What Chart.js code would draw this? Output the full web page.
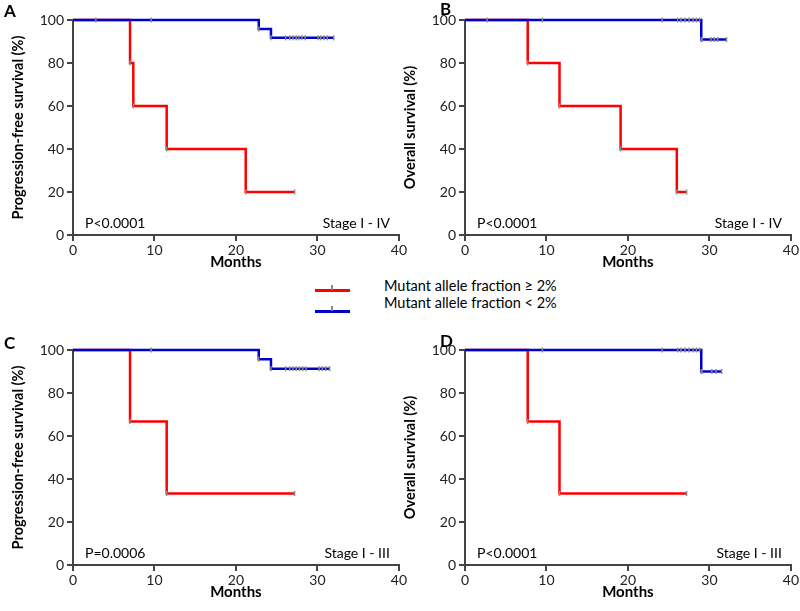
<!DOCTYPE html>
<html lang="en">
<head>
<meta charset="UTF-8">
<title>Survival curves</title>
<script src="https://cdn.jsdelivr.net/npm/chart.js"></script>
<style>
  body { margin: 0; background: #fff; font-family: Lato, "Liberation Sans", sans-serif; }
  #wrap { position: relative; width: 800px; height: 611px; overflow: hidden; }
  canvas { position: absolute; z-index: 1; }
  .panel { position: absolute; z-index: 2; font-weight: bold; font-size: 17px; line-height: 17px; color: #000; }
  .leg-line { position: absolute; width: 35px; height: 3px; }
  .leg-tick { position: absolute; width: 2px; height: 5px; background: #888; }
  .leg-text { position: absolute; font-size: 14.5px; line-height: 17px; color: #000; white-space: nowrap; }
</style>
</head>
<body>
<div id="wrap">
  <div class="panel" style="left:4px;top:2px">A</div>
  <div class="panel" style="left:440px;top:0px">B</div>
  <div class="panel" style="left:4px;top:334px">C</div>
  <div class="panel" style="left:440px;top:332px">D</div>

  <div class="leg-line" style="left:315px;top:289px;background:#ff0000"></div>
  <div class="leg-tick" style="left:331px;top:285px"></div>
  <div class="leg-line" style="left:315px;top:310px;background:#0000cc"></div>
  <div class="leg-tick" style="left:331px;top:306px"></div>
  <div class="leg-text" style="left:384px;top:277px">Mutant allele fraction ≥ 2%</div>
  <div class="leg-text" style="left:384px;top:294px">Mutant allele fraction &lt; 2%</div>

  <canvas id="cA" width="408" height="275" style="left:0;top:0"></canvas>
  <canvas id="cB" width="408" height="275" style="left:392px;top:0"></canvas>
  <canvas id="cC" width="408" height="275" style="left:0;top:330px"></canvas>
  <canvas id="cD" width="408" height="275" style="left:392px;top:330px"></canvas>
</div>
<script>
// --- données ---
const xTicks = [0, 10, 20, 30, 40];
const yTicks = [0, 20, 40, 60, 80, 100];

// Panel A : survie sans progression, stade I - IV
const aRedTimes = [0, 7.0, 7.4, 11.5, 21.2, 27.2];
const aRedSurv = [100, 80, 60, 40, 20, 20];
const aRedCens = [27.2];
const aBlueTimes = [0, 22.8, 24.3, 32.0];
const aBlueSurv = [100, 95.8, 91.7, 91.7];
const aBlueCens = [2.8, 9.6, 26.1, 26.6, 27.0, 27.4, 27.7, 28.1, 28.5, 30.1, 30.4, 30.8, 31.2, 32.0];

// Panel B : survie globale, stade I - IV
const bRedTimes = [0, 7.7, 11.6, 19.1, 26.0, 27.2];
const bRedSurv = [100, 80, 60, 40, 20, 20];
const bRedCens = [27.2];
const bBlueTimes = [0, 29.0, 32.1];
const bBlueSurv = [100, 90.9, 90.9];
const bBlueCens = [2.7, 9.5, 24.2, 26.1, 26.5, 27.0, 27.5, 28.0, 28.4, 28.8, 29.1, 30.2, 30.6, 31.0, 32.1];

// Panel C : survie sans progression, stade I - III
const cRedTimes = [0, 7.0, 11.5, 27.2];
const cRedSurv = [100, 66.7, 33.3, 33.3];
const cRedCens = [27.2];
const cBlueTimes = [0, 22.8, 24.3, 31.5];
const cBlueSurv = [100, 95.7, 91.3, 91.3];
const cBlueCens = [9.6, 26.1, 26.6, 27.0, 27.4, 27.8, 28.2, 28.6, 30.2, 30.6, 31.0, 31.5];

// Panel D : survie globale, stade I - III
const dRedTimes = [0, 7.7, 11.6, 27.2];
const dRedSurv = [100, 66.7, 33.3, 33.3];
const dRedCens = [27.2];
const dBlueTimes = [0, 29.0, 31.5];
const dBlueSurv = [100, 90, 90];
const dBlueCens = [9.5, 24.2, 26.1, 26.5, 27.0, 27.5, 28.0, 28.4, 28.8, 29.1, 30.3, 30.8, 31.5];

const yTitles = ['Progression-free survival (%)', 'Overall survival (%)', 'Progression-free survival (%)', 'Overall survival (%)'];
const pValues = ['P<0.0001', 'P<0.0001', 'P=0.0006', 'P<0.0001'];
const stages = ['Stage I - IV', 'Stage I - IV', 'Stage I - III', 'Stage I - III'];

const RED = '#ff0000';
const BLUE = '#0000cc';
const GREY = '#8a8a8a';
const FONT = 'Lato, "Liberation Sans", sans-serif';

// valeur de la courbe KM au temps t
function survAt(times, surv, t) {
    let s = surv[0];
    for (let i = 0; i < times.length; i++) {
        if (times[i] <= t) s = surv[i];
    }
    return s;
}

function pts(times, surv) {
    return times.map((t, i) => ({ x: t, y: surv[i] }));
}

function censPts(cens, times, surv) {
    return cens.map(t => ({ x: t, y: survAt(times, surv, t) }));
}

// petits repères gris au bas de chaque marche (événements)
function eventPts(times, surv) {
    const out = [];
    for (let i = 1; i < times.length; i++) {
        if (surv[i] < surv[i - 1]) out.push({ x: times[i], y: surv[i] });
    }
    return out;
}

// texte en bas du graphique (p-value et stade)
const annot = {
    id: 'annot',
    afterDraw(chart, args, opts) {
        const { ctx, chartArea: a } = chart;
        ctx.save();
        ctx.font = '14px ' + FONT;
        ctx.fillStyle = '#000';
        ctx.textBaseline = 'middle';
        ctx.textAlign = 'left';
        ctx.fillText(opts.p, a.left + 12, a.bottom - 12);
        ctx.textAlign = 'right';
        ctx.fillText(opts.stage, a.right - 9, a.bottom - 12);
        ctx.restore();
    }
};

function makeChart(id, idx, red, blue) {
    const censStyle = {
        type: 'scatter',
        pointStyle: 'line',
        rotation: 90,
        pointRadius: 2.5,
        pointBorderWidth: 1.5,
        pointBorderColor: GREY,
        showLine: false,
        clip: false
    };
    const lineStyle = {
        type: 'line',
        stepped: 'before',
        borderWidth: 2.5,
        pointRadius: 0,
        fill: false,
        clip: false
    };
    new Chart(document.getElementById(id), {
        type: 'line',
        data: {
            datasets: [
                Object.assign({ data: censPts(blue[2], blue[0], blue[1]) }, censStyle),
                Object.assign({ data: censPts(red[2], red[0], red[1]) }, censStyle),
                Object.assign({ data: eventPts(blue[0], blue[1]) }, censStyle),
                Object.assign({ data: eventPts(red[0], red[1]) }, censStyle),
                Object.assign({ data: pts(blue[0], blue[1]), borderColor: BLUE }, lineStyle),
                Object.assign({ data: pts(red[0], red[1]), borderColor: RED }, lineStyle)
            ]
        },
        options: {
            responsive: false,
            animation: false,
            layout: { padding: { left: 0, right: 9, top: 20, bottom: 0 } },
            plugins: {
                legend: { display: false },
                tooltip: { enabled: false },
                annot: { p: pValues[idx], stage: stages[idx] }
            },
            scales: {
                x: {
                    type: 'linear',
                    min: 0,
                    max: 40,
                    afterBuildTicks: s => { s.ticks = xTicks.map(v => ({ value: v })); },
                    afterFit: s => { s.height = 40; },
                    ticks: { color: '#222', font: { family: FONT, size: 14 }, padding: 1 },
                    grid: { drawOnChartArea: false, color: '#444', lineWidth: 2, tickLength: 6 },
                    border: { color: '#444', width: 2 },
                    title: { display: true, text: 'Months', color: '#000', font: { family: FONT, size: 15, weight: 'bold' }, padding: { top: 0, bottom: 4 } }
                },
                y: {
                    type: 'linear',
                    min: 0,
                    max: 100,
                    afterBuildTicks: s => { s.ticks = yTicks.map(v => ({ value: v })); },
                    afterFit: s => { s.width = 73; },
                    ticks: { color: '#222', font: { family: FONT, size: 14 }, padding: 3 },
                    grid: { drawOnChartArea: false, color: '#444', lineWidth: 2, tickLength: 6 },
                    border: { color: '#444', width: 2 },
                    title: { display: true, text: yTitles[idx], color: '#000', font: { family: FONT, size: 14.5, weight: 'bold' }, padding: { top: 10, bottom: 0 } }
                }
            }
        },
        plugins: [annot]
    });
}

makeChart('cA', 0, [aRedTimes, aRedSurv, aRedCens], [aBlueTimes, aBlueSurv, aBlueCens]);
makeChart('cB', 1, [bRedTimes, bRedSurv, bRedCens], [bBlueTimes, bBlueSurv, bBlueCens]);
makeChart('cC', 2, [cRedTimes, cRedSurv, cRedCens], [cBlueTimes, cBlueSurv, cBlueCens]);
makeChart('cD', 3, [dRedTimes, dRedSurv, dRedCens], [dBlueTimes, dBlueSurv, dBlueCens]);
</script>
</body>
</html>
